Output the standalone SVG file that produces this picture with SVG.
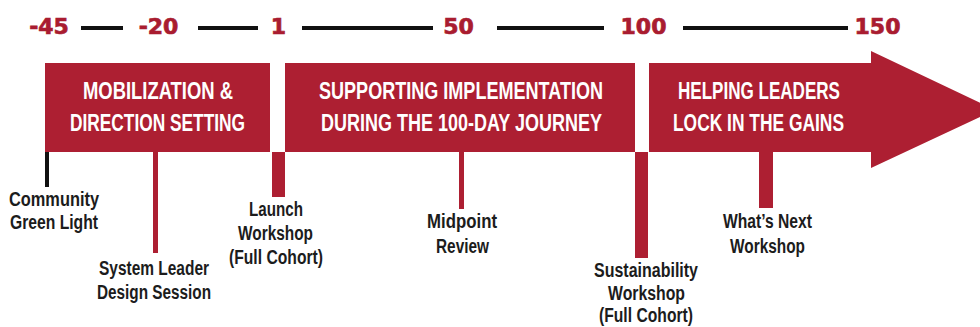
<svg xmlns="http://www.w3.org/2000/svg" width="980" height="327" viewBox="0 0 980 327">
<style>
.bg{fill:#ffffff}
.phase{fill:#ad1f32}
.num{font-family:"DejaVu Sans","Liberation Sans",sans-serif;font-weight:900;font-size:22px;fill:#a91c30;stroke:#a91c30;stroke-width:0.7;text-anchor:middle}
.dash{stroke:#111111;stroke-width:4;fill:none}
.title{font-family:"Liberation Sans","Noto Sans",sans-serif;font-weight:700;font-size:23px;fill:#ffffff}
.lbl{font-family:"Liberation Sans","Noto Sans",sans-serif;font-weight:700;font-size:20px;fill:#1c1c1c}
.tick{fill:#ad1f32}
.tickb{fill:#111111}
</style>
<rect class="bg" x="0" y="0" width="980" height="327"/>

<g id="connectors">
<line class="dash" x1="81" y1="28" x2="123" y2="28"/>
<line class="dash" x1="198" y1="28" x2="258" y2="28"/>
<line class="dash" x1="302" y1="28" x2="433" y2="28"/>
<line class="dash" x1="497" y1="28" x2="604" y2="28"/>
<line class="dash" x1="683" y1="28" x2="848" y2="28"/>
</g>

<g id="scale">
<text class="num" x="49" y="34">-45</text>
<text class="num" x="158.5" y="34">-20</text>
<text class="num" x="278.5" y="34">1</text>
<text class="num" x="458.5" y="34">50</text>
<text class="num" x="643.5" y="34">100</text>
<text class="num" x="877.5" y="34">150</text>
</g>

<g id="phase-mobilization">
<rect class="phase" x="45" y="63" width="225" height="89"/>
<text class="title" x="83" y="99" textLength="150" lengthAdjust="spacingAndGlyphs">MOBILIZATION &amp;</text>
<text class="title" x="70" y="131" textLength="175" lengthAdjust="spacingAndGlyphs">DIRECTION SETTING</text>
</g>

<g id="phase-implementation">
<rect class="phase" x="285" y="63" width="350" height="89"/>
<text class="title" x="319" y="99" textLength="284" lengthAdjust="spacingAndGlyphs">SUPPORTING IMPLEMENTATION</text>
<text class="title" x="321" y="131" textLength="281" lengthAdjust="spacingAndGlyphs">DURING THE 100-DAY JOURNEY</text>
</g>

<g id="phase-gains">
<polygon class="phase" points="649,63 871,63 871,51 995,110 871,168 871,152 649,152"/>
<text class="title" x="678" y="99" textLength="162" lengthAdjust="spacingAndGlyphs">HELPING LEADERS</text>
<text class="title" x="673" y="131" textLength="171" lengthAdjust="spacingAndGlyphs">LOCK IN THE GAINS</text>
</g>

<g id="m-community">
<rect class="tickb" x="45" y="152" width="4" height="35"/>
<text class="lbl" x="9" y="206" textLength="90" lengthAdjust="spacingAndGlyphs">Community</text>
<text class="lbl" x="10" y="229" textLength="88" lengthAdjust="spacingAndGlyphs">Green Light</text>
</g>

<g id="m-system-leader">
<rect class="tick" x="153" y="152" width="5" height="101"/>
<text class="lbl" x="99" y="275" textLength="110" lengthAdjust="spacingAndGlyphs">System Leader</text>
<text class="lbl" x="97" y="299" textLength="114" lengthAdjust="spacingAndGlyphs">Design Session</text>
</g>

<g id="m-launch">
<rect class="tick" x="272" y="152" width="13" height="45"/>
<text class="lbl" x="249" y="216" textLength="54" lengthAdjust="spacingAndGlyphs">Launch</text>
<text class="lbl" x="238" y="240" textLength="75" lengthAdjust="spacingAndGlyphs">Workshop</text>
<text class="lbl" x="229" y="264" textLength="94" lengthAdjust="spacingAndGlyphs">(Full Cohort)</text>
</g>

<g id="m-midpoint">
<rect class="tick" x="459" y="152" width="5" height="57"/>
<text class="lbl" x="427" y="228" textLength="70" lengthAdjust="spacingAndGlyphs">Midpoint</text>
<text class="lbl" x="436" y="253" textLength="53" lengthAdjust="spacingAndGlyphs">Review</text>
</g>

<g id="m-sustainability">
<rect class="tick" x="635" y="152" width="13" height="106"/>
<text class="lbl" x="594" y="277" textLength="104" lengthAdjust="spacingAndGlyphs">Sustainability</text>
<text class="lbl" x="608" y="300" textLength="77" lengthAdjust="spacingAndGlyphs">Workshop</text>
<text class="lbl" x="599" y="322" textLength="94" lengthAdjust="spacingAndGlyphs">(Full Cohort)</text>
</g>

<g id="m-whats-next">
<rect class="tick" x="759" y="152" width="14" height="56"/>
<text class="lbl" x="723" y="228" textLength="89" lengthAdjust="spacingAndGlyphs">What’s Next</text>
<text class="lbl" x="730" y="253" textLength="75" lengthAdjust="spacingAndGlyphs">Workshop</text>
</g>
</svg>
